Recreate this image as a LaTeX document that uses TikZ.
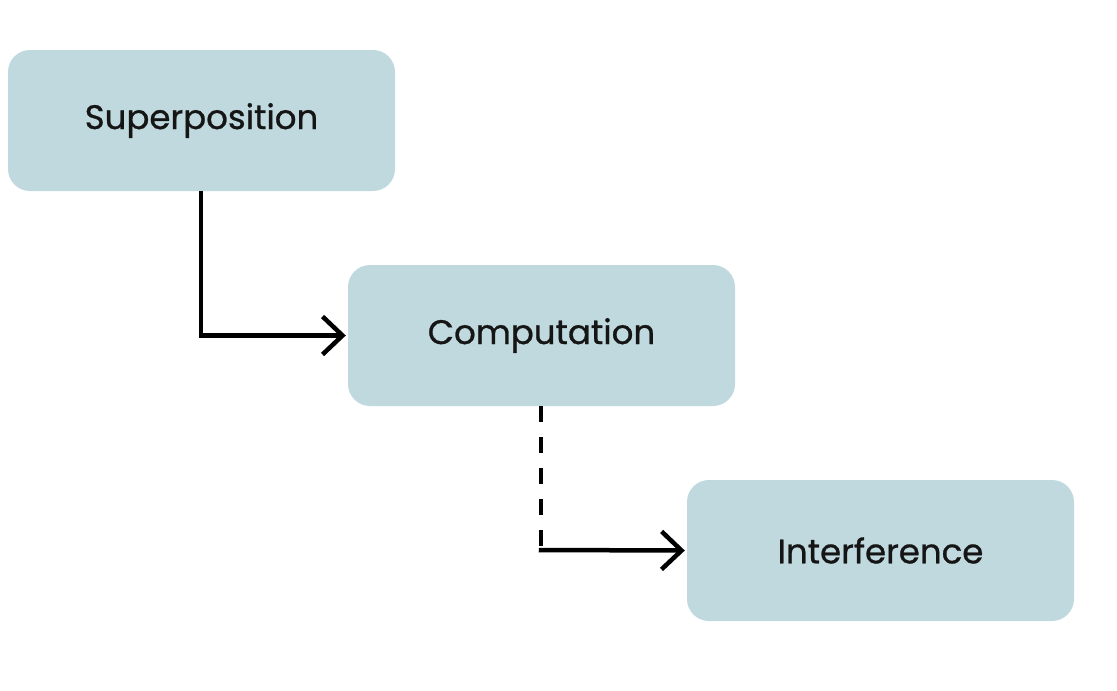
\documentclass[tikz,border=0pt]{standalone}
\usepackage{fontspec}
\setmainfont{Poppins}
\newfontfamily\cardfont{Poppins}[FakeBold=0.8]
\usetikzlibrary{arrows.meta}
\definecolor{boxfill}{HTML}{BFD9DE}
\definecolor{txt}{HTML}{151515}
\tikzset{
  card/.style={fill=boxfill, draw=none, rounded corners=22pt, minimum width=387pt, minimum height=141pt, inner sep=0pt, text=txt, font=\cardfont\fontsize{34}{40}\selectfont},
  link/.style={line width=4.5pt, draw=black, -{Straight Barb[length=20pt,width=38pt,line width=4.5pt]}},
  dashlink/.style={line width=4.5pt, draw=black, dash pattern=on 16pt off 15pt}
}
\begin{document}
\begin{tikzpicture}[x=1pt,y=-1pt]
\useasboundingbox (0,0) rectangle (1117,691);
\node[card] (sup) at (201.5,120.5) {Superposition};
\node[card] (comp) at (541.5,335.5) {Computation};
\node[card] (int) at (880.5,550.5) {Interference};
\coordinate (bend) at (541,550);
\draw[link] (sup.south -| 201,0) |- ([xshift=-2pt]comp.west);
\draw[dashlink] (comp.south -| bend) -- ([yshift=-2.25pt]bend);
\draw[link] ([xshift=-2.25pt]bend) -- ([xshift=-2pt]int.west);
\end{tikzpicture}
\end{document}
